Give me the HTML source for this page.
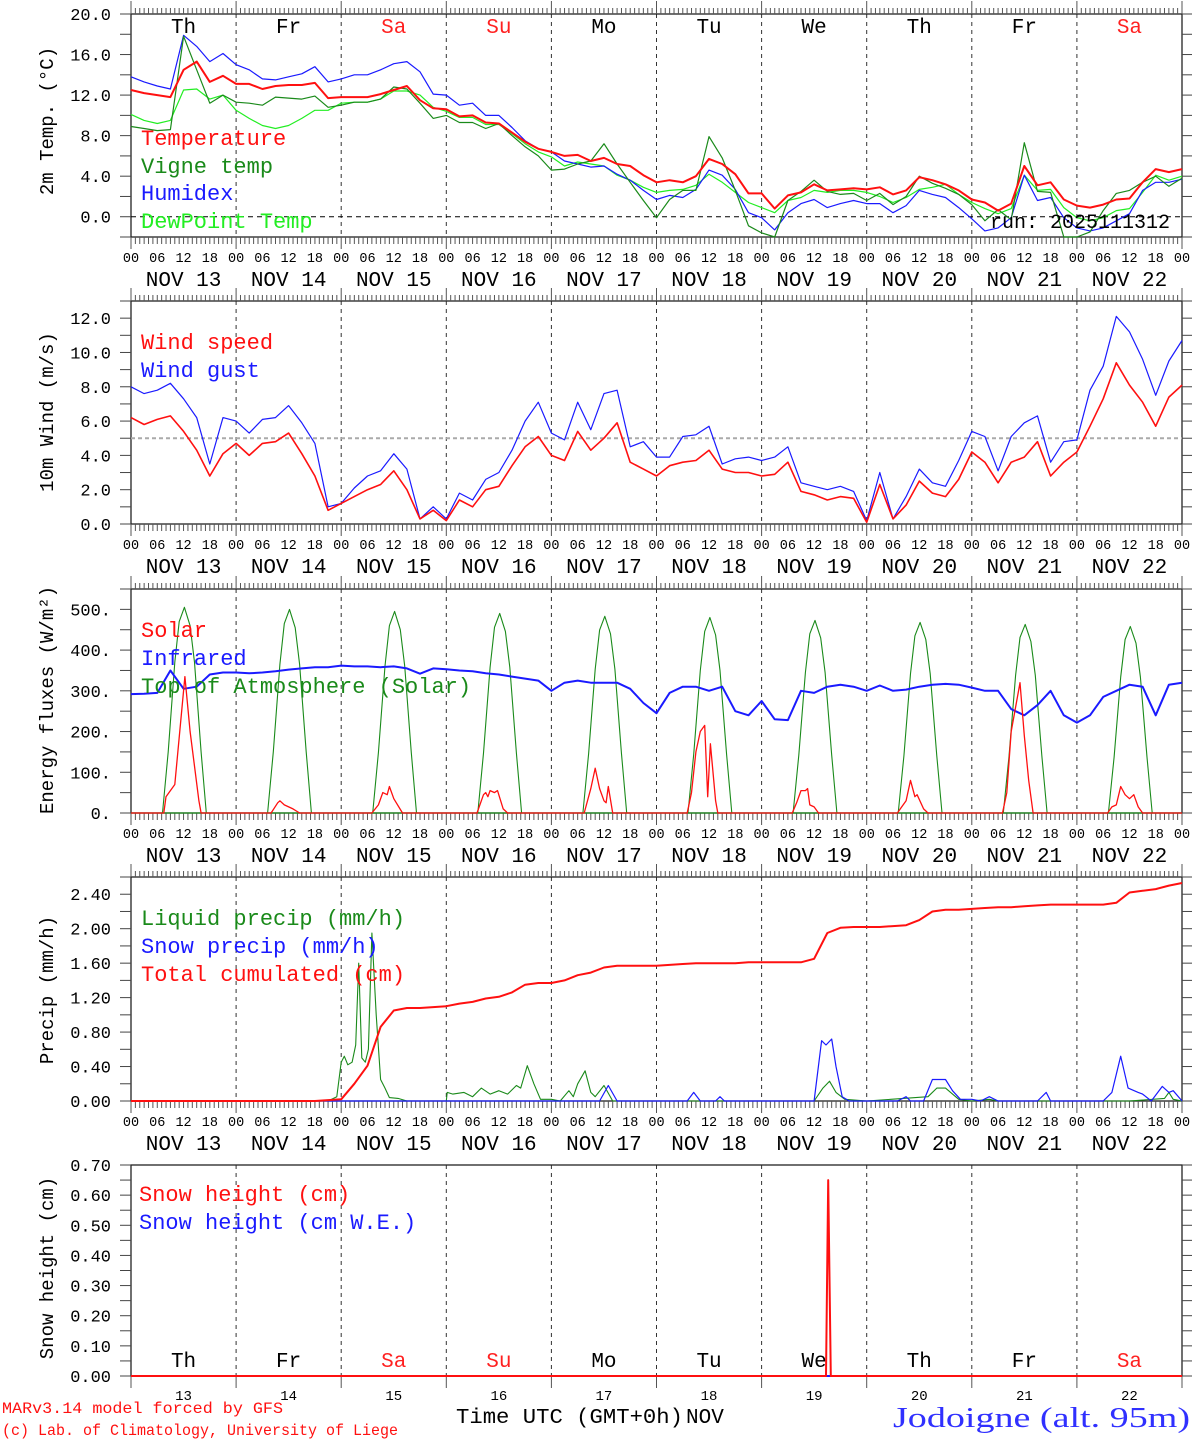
<!DOCTYPE html>
<html><head><meta charset="utf-8"><style>
html,body{margin:0;padding:0;background:#fff;}
svg{display:block;}
text{font-family:"Liberation Mono","DejaVu Sans Mono",monospace;}
</style></head><body>
<svg id="chart" width="1194" height="1440" viewBox="0 0 1194 1440" xmlns="http://www.w3.org/2000/svg"></svg>
<script>
// ---------- DATA (3-hourly, index i => hour i*3 from NOV 13 00 UTC) ----------
const dayNames = ["Th","Fr","Sa","Su","Mo","Tu","We","Th","Fr","Sa"];
const dayNums = ["13","14","15","16","17","18","19","20","21","22"];
const hourLabels = ["00","06","12","18"];
const temp = [12.5,12.2,12.0,11.8,14.5,15.3,13.3,13.9, 13.1,13.1,12.6,12.9,13.0,13.0,13.2,11.7, 11.8,11.8,11.8,12.1,12.5,12.9,11.5,10.7, 10.6,9.9,10.0,9.3,9.2,8.3,7.4,6.7, 6.4,6.0,6.1,5.5,5.8,5.2,5.0,4.1, 3.4,3.6,3.4,4.0,5.7,5.2,4.2,2.3, 2.3,0.8,2.1,2.4,3.2,2.6,2.7,2.8, 2.7,2.9,2.2,2.6,3.9,3.6,3.2,2.6, 1.7,1.4,0.6,1.3,5.0,3.1,3.4,1.7, 1.1,0.9,1.2,1.7,1.8,3.4,4.7,4.4,4.7];
const vigne = [8.9,8.7,8.5,8.6,17.8,14.5,11.2,12.0, 11.3,11.2,11.0,11.8,11.7,11.6,11.9,10.8, 11.0,11.3,11.3,11.6,12.8,12.6,11.2,9.7, 10.0,9.3,9.3,8.7,9.2,8.0,6.9,6.0, 4.6,4.7,5.2,5.5,7.2,5.2,3.4,1.6, -0.1,1.7,2.6,2.6,7.9,5.8,2.6,-0.9, -1.6,-2.5,1.6,2.5,3.6,2.5,2.2,2.3, 1.6,2.3,1.2,2.0,4.0,3.3,2.8,2.2, 1.2,-0.4,0.7,-0.3,7.3,2.5,2.4,-2.4, -2.6,-1.5,0.6,2.3,2.6,3.4,4.0,3.0,3.8];
const humidex = [13.8,13.3,12.9,12.6,17.9,16.8,15.3,16.1, 15.0,14.5,13.6,13.5,13.8,14.1,14.8,13.3, 13.6,14.0,14.0,14.5,15.1,15.3,14.3,12.1, 12.0,11.0,11.2,10.0,10.0,8.8,7.5,6.7, 6.4,5.5,5.2,4.9,5.0,4.2,3.6,2.6, 1.7,2.1,1.9,2.7,4.6,4.1,2.7,0.4, -0.1,-1.3,0.4,1.3,1.7,0.9,1.3,1.6, 1.3,1.3,0.4,1.1,2.6,2.2,1.9,0.9, -0.2,-1.4,-1.1,-0.1,4.1,1.6,1.9,-0.1, -1.1,-1.4,-1.1,-0.4,0.3,2.6,3.4,3.4,3.7];
const dewpoint = [10.1,9.5,9.2,9.5,12.5,12.6,11.6,12.0, 10.5,9.7,9.0,8.7,9.0,9.7,10.5,10.5, 11.2,11.3,11.3,11.6,12.4,12.4,12.0,10.8, 10.4,9.8,9.8,9.1,9.1,8.2,7.2,6.4, 5.9,5.0,5.4,5.2,5.0,4.1,3.6,2.9, 2.4,2.6,2.7,3.1,4.2,3.4,2.4,1.4, 0.9,0.4,1.6,1.9,2.6,2.4,2.6,2.6, 2.4,2.0,1.4,1.9,2.7,2.9,3.2,2.2, 1.4,0.8,0.3,0.8,4.1,2.6,2.7,0.9, -0.1,-0.4,-0.1,0.6,0.8,2.4,4.1,3.6,4.0];
const windSpeed = [6.2,5.8,6.1,6.3,5.4,4.3,2.8,4.1, 4.7,4.0,4.7,4.8,5.3,4.1,2.8,0.8, 1.2,1.6,2.0,2.3,3.1,2.0,0.3,0.8, 0.2,1.4,1.0,2.0,2.2,3.4,4.5,5.1, 4.0,3.7,5.4,4.3,5.0,5.9,3.6,3.2, 2.8,3.4,3.6,3.7,4.3,3.2,3.0,3.0, 2.8,2.9,3.6,1.9,1.7,1.4,1.6,1.5, 0.1,2.3,0.3,1.1,2.5,1.8,1.6,2.6, 4.2,3.6,2.4,3.6,3.9,4.8,2.8,3.6, 4.2,5.7,7.3,9.4,8.1,7.1,5.7,7.4,8.1];
const windGust = [8.0,7.6,7.8,8.2,7.3,6.2,3.5,6.2, 6.0,5.3,6.1,6.2,6.9,5.9,4.7,1.0, 1.2,2.1,2.8,3.1,4.1,3.2,0.3,1.0, 0.3,1.8,1.4,2.6,3.0,4.3,6.0,7.1, 5.3,4.9,7.1,5.5,7.6,7.8,4.5,4.8, 3.9,3.9,5.1,5.2,5.7,3.5,3.8,3.9, 3.7,3.9,4.5,2.4,2.2,2.0,2.2,1.9, 0.2,3.0,0.3,1.6,3.2,2.4,2.2,3.7, 5.4,5.1,3.1,5.1,5.9,6.3,3.6,4.8, 4.9,7.8,9.2,12.1,11.2,9.6,7.5,9.5,10.7];
const infrared = [292,293,295,350,305,310,340,345, 345,343,345,348,352,355,358,358, 362,360,360,358,360,355,342,355, 353,350,348,343,340,335,330,325, 300,320,325,320,320,320,305,270, 245,295,310,310,300,310,250,240, 275,230,228,300,295,310,315,310, 300,313,300,303,310,315,317,315, 308,300,300,255,240,265,300,240, 222,240,285,300,315,310,240,315,320];
const totalCum = [0,0,0,0,0,0,0,0, 0,0,0,0,0,0,0,0.01, 0.02,0.2,0.41,0.86,1.05,1.08,1.08,1.09, 1.10,1.13,1.15,1.19,1.21,1.26,1.35,1.37, 1.37,1.40,1.46,1.49,1.55,1.57,1.57,1.57, 1.57,1.58,1.59,1.60,1.60,1.60,1.60,1.61, 1.61,1.61,1.61,1.61,1.65,1.95,2.01,2.02, 2.02,2.02,2.03,2.04,2.10,2.20,2.22,2.22, 2.23,2.24,2.25,2.25,2.26,2.27,2.28,2.28, 2.28,2.28,2.28,2.30,2.42,2.44,2.46,2.50,2.53];
// irregular-time series: hours since NOV 13 00 UTC, values
const liqHours = [0,45,47,48,48.7,49.5,50.5,51.3,52,52.7,53.5,54.2,55,56,57,58,59,61,63,72,72.2,73.5,76,78,80,82,84,86,88,89,90.5,92,93.5,96,98,100,101,102,103.7,105,106,108,110,156,158,159.5,161,163,168,182,184,186,189,192,196,198,228,236,237,238,240];
const liqVals  = [0,0,0.05,0.45,0.52,0.42,0.45,0.65,1.6,0.5,0.45,0.6,1.95,1.0,0.25,0.15,0.04,0.03,0,0,0.1,0.08,0.1,0.05,0.15,0.08,0.12,0.08,0.18,0.15,0.41,0.2,0.02,0.02,0,0.12,0.05,0.2,0.35,0.1,0.05,0.18,0,0,0.15,0.23,0.1,0.02,0,0.05,0.15,0.15,0.02,0,0.02,0,0,0.03,0.1,0.02,0];
const snowHours = [0,107,109,111,127,128.5,130,133.5,134.5,135.5,156,157.7,158.7,160,161,162.4,164,175,177,178,181,183,186,187.6,189.4,192,194,196,198,207,209,210,222,224,226,227.7,230,231,233,235.5,237,238,239.5,240];
const snowVals  = [0,0,0.18,0,0,0.1,0,0,0.05,0,0,0.7,0.65,0.72,0.4,0.05,0,0,0.05,0,0,0.25,0.25,0.12,0.02,0.02,0,0.05,0,0,0.1,0,0,0.1,0.52,0.15,0.1,0.08,0,0.17,0.1,0.12,0.03,0];
const solarHours = [0,7.5,8,10,12.3,13.5,15.5,16,32,33.5,34,35,37,38.5,55,56.5,57.5,58.5,59,60,62,79,80.5,81,81.5,82,83,83.7,85,86,103.5,105,106,107,108,108.5,109,110,127,128,129,130,131,131.7,132.3,133.5,134,151,152,153,154,154.5,155,156,157,175,176,177,178,179,179.5,181,182,199,200,201,202,203,204,205,206,223,224,225,226,227,228,229,230,231,240];
const solarVals  = [0,0,40,70,335,200,30,0,0,25,30,20,10,0,0,20,50,45,65,35,0,0,45,50,40,55,50,55,10,0,0,60,110,60,30,25,65,0,0,50,150,200,215,40,170,30,0,0,25,55,55,60,20,15,0,0,15,30,80,40,45,10,0,0,50,200,260,320,190,80,0,0,15,20,65,45,35,45,15,0,0];
const toaHourOfDay = [7.2,8.5,10,11,12.2,13.5,14.5,16,17.2];
const toaByDay = [
 [0,150,370,470,505,460,370,150,0],[0,150,365,465,500,455,365,150,0],[0,148,361,460,495,450,361,148,0],
 [0,147,358,456,490,446,358,147,0],[0,145,353,449,483,440,353,145,0],[0,144,350,446,480,437,350,144,0],
 [0,142,345,440,473,430,345,142,0],[0,140,342,435,468,426,342,140,0],[0,139,338,431,463,421,338,139,0],
 [0,137,334,426,458,417,334,137,0]];
const snowHHours = [0,158.7,159.2,159.8,240];
const snowHVals  = [0,0,0.65,0,0];
const snowWEVals = [0,0,0,0,0];

// ---------- LAYOUT ----------
const NS = "http://www.w3.org/2000/svg";
const svg = document.getElementById('chart');
const X0 = 131, X1 = 1182, HTOT = 240;
function xh(h){ return X0 + h*(X1-X0)/HTOT; }
const panels = [
 {top:14, bot:237, vmin:-2, vmax:20},
 {top:301, bot:524, vmin:0, vmax:13},
 {top:589, bot:813, vmin:0, vmax:550},
 {top:877, bot:1101, vmin:0, vmax:2.6},
 {top:1165, bot:1376, vmin:0, vmax:0.7}
];
function yv(p, v){ return p.bot - (v-p.vmin)*(p.bot-p.top)/(p.vmax-p.vmin); }
function mk(tag, attrs, parent){
  const e = document.createElementNS(NS, tag);
  for (const k in attrs) e.setAttribute(k, attrs[k]);
  (parent||svg).appendChild(e);
  return e;
}
function txt(s, x, y, size, color, anchor, parent){
  const t = mk('text', {x:x, y:y, 'font-size':size, fill:color||'#000', 'text-anchor':anchor||'start'}, parent);
  t.textContent = s;
  return t;
}
function polyline(p, hours, vals, color, w, parent){
  let d = '';
  for (let i=0;i<vals.length;i++){
    let yy = Math.max(p.top, Math.min(p.bot, yv(p, vals[i])));
    d += (i?'L':'M') + xh(hours[i]).toFixed(1) + ',' + yy.toFixed(1);
  }
  return mk('path', {d:d, fill:'none', stroke:color, 'stroke-width':w, 'stroke-linejoin':'round'}, parent);
}
const hours3 = temp.map((_, i) => i*3);

// ---------- AXES ----------
const yConf = [
 {step:2, lab:4, fmt:v=>v.toFixed(1), title:'2m Temp. (°C)', cy:121},
 {step:1, lab:2, fmt:v=>v.toFixed(1), title:'10m Wind (m/s)', cy:412},
 {step:50, lab:100, fmt:v=>v.toFixed(0)+'.', title:'Energy fluxes (W/m²)', cy:700},
 {step:0.2, lab:0.4, fmt:v=>v.toFixed(2), title:'Precip (mm/h)', cy:990},
 {step:0.05, lab:0.1, fmt:v=>v.toFixed(2), title:'Snow height (cm)', cy:1268}
];
panels.forEach((p, pi) => {
  const g = mk('g', {});
  
  
  const c = yConf[pi];
  for (let d=1; d<10; d++){
    const l = mk('line', {x1:xh(d*24), x2:xh(d*24), y1:p.top, y2:p.bot, stroke:'#333', 'stroke-width':1, 'stroke-dasharray':'4,4'}, g);
    
    
  }
  const fr = mk('rect', {x:X0, y:p.top, width:X1-X0, height:p.bot-p.top, fill:'none', stroke:'#222', 'stroke-width':1.3}, g);
  
  
  const ya = mk('g', {}, g);
  
  
  const n = Math.round((p.vmax - p.vmin)/c.step);
  for (let k=0;k<=n+1;k++){
    const v = p.vmin + k*c.step;
    if (v > p.vmax+1e-9) break;
    const y = yv(p, v);
    mk('line', {x1:120, x2:X0, y1:y, y2:y, stroke:'#444', 'stroke-width':1}, ya);
    mk('line', {x1:X1, x2:1192, y1:y, y2:y, stroke:'#444', 'stroke-width':1}, ya);
    const r = Math.abs(v/c.lab - Math.round(v/c.lab));
    if (r < 1e-6 && v >= 0 - 1e-9){
      const t = txt(c.fmt(Math.abs(v)<1e-9?0:v), 111, y+6, 17, '#000', 'end', ya);
      
      
    }
  }
  const tt = mk('text', {x:0, y:0, 'font-size':19, fill:'#000', 'text-anchor':'middle', transform:'translate(53,'+c.cy+') rotate(-90)'}, g);
  tt.textContent = c.title;
  
  
  const xa = mk('g', {}, g);
  
  
  if (pi < 4){
    for (let h=0; h<=HTOT; h++){
      const x = xh(h);
      const big = h%24===0;
      mk('line', {x1:x, x2:x, y1:p.top-(big?13:6), y2:p.top, stroke:'#555', 'stroke-width':1}, xa);
      mk('line', {x1:x, x2:x, y1:p.bot, y2:p.bot+(big?12:7), stroke:'#555', 'stroke-width':1}, xa);
    }
    for (let h=0; h<=HTOT; h+=6){
      const t = txt(hourLabels[(h/6)%4], xh(h), p.bot+25, 13.5, '#000', 'middle', xa);
      
      
    }
    for (let d=0; d<10; d++){
      const t = txt('NOV ' + dayNums[d], xh(d*24+12), p.bot+49, 21, '#000', 'middle', xa);
      
      
    }
  } else {
    for (let d=0; d<=10; d++){
      mk('line', {x1:xh(d*24), x2:xh(d*24), y1:p.bot, y2:p.bot+12, stroke:'#555', 'stroke-width':1}, xa);
    }
    for (let d=0; d<10; d++){
      const t = txt(dayNums[d], xh(d*24+12), 1400, 14, '#000', 'middle', xa);
      
      
    }
  }
  p.g = g;
});

[[0,33],[4,1367]].forEach(([pi, y]) => {
  for (let d=0; d<10; d++){
    const col = (dayNames[d]==='Sa'||dayNames[d]==='Su') ? '#ff2020' : '#000';
    const t = txt(dayNames[d], xh(d*24+12), y, 21, col, 'middle', panels[pi].g);
    
    
  }
});

const z1 = mk('line', {x1:X0, x2:X1, y1:yv(panels[0],0), y2:yv(panels[0],0), stroke:'#000', 'stroke-width':1, 'stroke-dasharray':'5,4'}, panels[0].g);


const w5 = mk('line', {x1:X0, x2:X1, y1:yv(panels[1],5), y2:yv(panels[1],5), stroke:'#aaa', 'stroke-width':2, 'stroke-dasharray':'4,3'}, panels[1].g);



// ---------- SERIES ----------
let s;
s = polyline(panels[0], hours3, dewpoint, '#22ee22', 1.2);  
s = polyline(panels[0], hours3, humidex, '#1a1aff', 1.2);  
s = polyline(panels[0], hours3, vigne, '#1a8a1a', 1.2);  
s = polyline(panels[0], hours3, temp, '#ff1010', 2);  

s = polyline(panels[1], hours3, windGust, '#1a1aff', 1.2);  
s = polyline(panels[1], hours3, windSpeed, '#ff1010', 1.6);  

for (let d=0; d<10; d++){
  const hrs = toaHourOfDay.map(h => h + d*24);
  s = polyline(panels[2], hrs, toaByDay[d], '#1a8a1a', 1.1);
  
  
}
s = mk('line', {x1:X0, x2:X1, y1:yv(panels[2],0), y2:yv(panels[2],0), stroke:'#1a8a1a', 'stroke-width':1.2});  
s = polyline(panels[2], hours3, infrared, '#1a1aff', 2);  
s = polyline(panels[2], solarHours, solarVals, '#ff1010', 1.3);  

s = polyline(panels[3], liqHours, liqVals, '#1a8a1a', 1.1);  
s = polyline(panels[3], snowHours, snowVals, '#1a1aff', 1.2);  
s = polyline(panels[3], hours3, totalCum, '#ff1010', 2);  

s = polyline(panels[4], snowHHours, snowWEVals, '#1a1aff', 2);  
s = polyline(panels[4], snowHHours, snowHVals, '#ff1010', 2);  

// ---------- LEGENDS ----------
const legends = [
 [141,145,'Temperature','#ff1010'],[141,173,'Vigne temp','#1a8a1a'],[141,200,'Humidex','#1a1aff'],[141,228,'DewPoint Temp','#22ee22'],
 [141,349,'Wind speed','#ff1010'],[141,377,'Wind gust','#1a1aff'],
 [141,637,'Solar','#ff1010'],[141,665,'Infrared','#1a1aff'],[141,693,'Top of Atmosphere (Solar)','#1a8a1a'],
 [141,925,'Liquid precip (mm/h)','#1a8a1a'],[141,953,'Snow precip (mm/h)','#1a1aff'],[141,981,'Total cumulated (cm)','#ff1010'],
 [139,1201,'Snow height (cm)','#ff1010'],[139,1229,'Snow height (cm W.E.)','#1a1aff']
];
legends.forEach(l => {
  const t = txt(l[2], l[0], l[1], 22, l[3], 'start');
  
  
});

// ---------- FOOTER ----------
let f;
f = txt('run: 2025111312', 990, 228, 20, '#000');  
f = txt('MARv3.14 model forced by GFS', 2, 1413, 16, '#ff1010'); f.setAttribute('textLength','281'); f.setAttribute('lengthAdjust','spacingAndGlyphs');  
f = txt('(c) Lab. of Climatology, University of Liege', 2, 1435, 16, '#ff1010'); f.setAttribute('textLength','396'); f.setAttribute('lengthAdjust','spacingAndGlyphs');  
f = txt('Time UTC (GMT+0h)', 456, 1423, 21, '#000'); f.setAttribute('textLength','227'); f.setAttribute('lengthAdjust','spacingAndGlyphs');  
f = txt('NOV', 686, 1423, 21, '#000');  
f = mk('text', {x:893, y:1427, 'font-size':29, fill:'#3030ff', style:'font-family:"Liberation Serif",serif', textLength:297, lengthAdjust:'spacingAndGlyphs'});
f.textContent = 'Jodoigne (alt. 95m)';


</script>
</body></html>
